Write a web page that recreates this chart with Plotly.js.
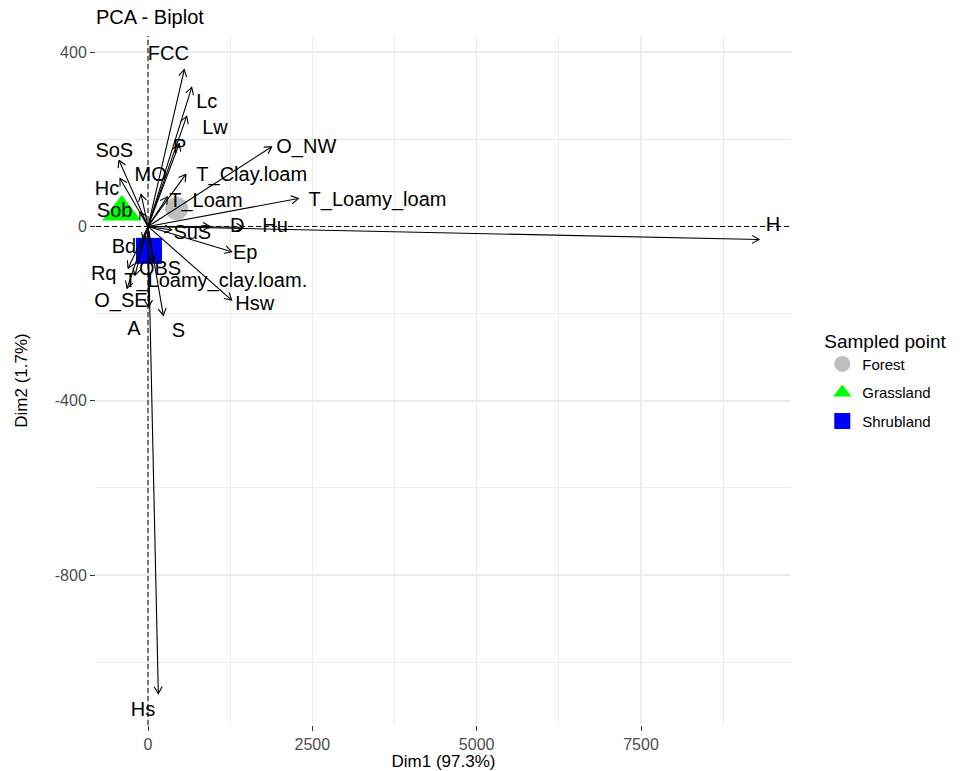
<!DOCTYPE html>
<html>
<head>
<meta charset="utf-8">
<script src="https://cdn.plot.ly/plotly-3.0.1.min.js"></script>
<style>html,body{margin:0;padding:0;background:#fff;}#chart{width:971px;height:771px;}</style>
</head>
<body>
<div id="chart"></div>
<script>
// ---- data ----
const varNames = ['FCC','Lc','Lw','P','O_NW','T_Clay.loam','T_Loam','T_Loamy_loam','MO','SoS','Hc','Sob','D','Hu','H','SuS','Ep','Hsw','Bd','Rq','OBS','T_Loamy_clay.loam.','O_SE','A','S','Hs'];
const varX = [552,665,589,476,1882,578,294,2287,-106,-441,-426,-122,943,1450,9296,360,1273,1273,-76,-304,76,-198,-319,8,233,157];
const varY = [360,319,253,190,183,120,68,64,74,152,110,33,0,-2,-30,-8,-58,-169,-31,-96,-82,-112,-142,-185,-204,-1072];
const labX = [309,893,1019,482,2408,1578,882,3492,41,-513,-624,-507,1359,1932,9509,674,1480,1623,-365,-674,183,1030,-411,-213,461,-76];
const labY = [393,284,223,179,179,116,56,58,116,171,83,34,-1,-1,0,-18,-64,-181,-50,-112,-99,-127,-173,-238,-242,-1112];

const groups = ['Forest','Grassland','Shrubland'];
const groupX = [436,-400,15];
const groupY = [41,33,-56];
const groupColors = ['#BEBEBE','#00FF00','#0000FF'];
const groupSymbols = ['circle','triangle-up','square'];

const xTickVals = [0,2500,5000,7500];
const xTickText = ['0','2500','5000','7500'];
const yTickVals = [-800,-400,0,400];
const yTickText = ['-800','-400','0','400'];

const xRange = [-791, 9782];
const yRange = [-1144, 437];

// ---- layout geometry ----
const W = 971, H = 771;
const margin = {l:96, r:180, t:36, b:46};
const plotW = W - margin.l - margin.r;
const plotH = H - margin.t - margin.b;
const sx = plotW / (xRange[1]-xRange[0]);
const sy = plotH / (yRange[1]-yRange[0]);

// arrows: shafts + open V heads (head computed in screen space)
const ax = [], ay = [];
const headLen = 8, headAng = Math.PI/6;
for (let i=0;i<varNames.length;i++){
  const x = varX[i], y = varY[i];
  ax.push(0, x, null); ay.push(0, y, null);
  const ang = Math.atan2(y*sy, x*sx);
  const a1 = ang + Math.PI + headAng, a2 = ang + Math.PI - headAng;
  ax.push(x + headLen*Math.cos(a1)/sx, x, x + headLen*Math.cos(a2)/sx, null);
  ay.push(y + headLen*Math.sin(a1)/sy, y, y + headLen*Math.sin(a2)/sy, null);
}

const traces = [];
// dashed reference lines through the origin
traces.push({type:'scatter', mode:'lines', x:[0,0], y:yRange, showlegend:false, hoverinfo:'skip',
  line:{color:'#000000', width:1, dash:'5px,3px'}});
traces.push({type:'scatter', mode:'lines', x:xRange, y:[0,0], showlegend:false, hoverinfo:'skip',
  line:{color:'#000000', width:1, dash:'5px,3px'}});

const markerSizes = [23, 34, 26];
for (let g=0; g<groups.length; g++){
  traces.push({
    type:'scatter', mode:'markers', name:groups[g], legendgroup:groups[g],
    x:[groupX[g]], y:[groupY[g]],
    marker:{color:groupColors[g], symbol:groupSymbols[g], size:markerSizes[g], line:{width:0}},
    hoverinfo:'skip'
  });
}
traces.push({
  type:'scatter', mode:'lines', x:ax, y:ay, showlegend:false,
  line:{color:'#000000', width:1.1}, hoverinfo:'skip'
});
traces.push({
  type:'scatter', mode:'text', x:labX, y:labY, text:varNames, showlegend:false,
  textposition:'middle center',
  textfont:{family:'Liberation Sans, Arial, sans-serif', size:20, color:'#000000'},
  hoverinfo:'skip', cliponaxis:false
});

const gridColor = '#EBEBEB';
const layout = {
  width:W, height:H, margin:margin,
  paper_bgcolor:'#ffffff', plot_bgcolor:'#ffffff',
  font:{family:'Liberation Sans, Arial, sans-serif', color:'#000000'},
  title:{text:'PCA - Biplot', x:0, xref:'paper', xanchor:'left', y:1-17/H, yref:'container', yanchor:'middle',
    font:{size:20, color:'#000000'}},
  xaxis:{range:xRange, tickmode:'array', tickvals:xTickVals, ticktext:xTickText, zeroline:false, showline:false,
    showgrid:true, gridcolor:gridColor, gridwidth:1.5,
    minor:{dtick:1250, tick0:0, showgrid:true, gridcolor:gridColor, gridwidth:1},
    ticks:'outside', ticklen:5, tickcolor:'#333333', tickwidth:1,
    tickfont:{size:16, color:'#4D4D4D'},
    title:{text:'Dim1 (97.3%)', font:{size:17, color:'#000000'}, standoff:4}},
  yaxis:{range:yRange, tickmode:'array', tickvals:yTickVals, ticktext:yTickText, zeroline:false, showline:false,
    showgrid:true, gridcolor:gridColor, gridwidth:1.5,
    minor:{dtick:200, tick0:0, showgrid:true, gridcolor:gridColor, gridwidth:1},
    ticks:'outside', ticklen:5, tickcolor:'#333333', tickwidth:1,
    tickfont:{size:16, color:'#4D4D4D'},
    title:{text:'Dim2 (1.7%)', font:{size:17, color:'#000000'}, standoff:22}},
  legend:{x:1.045, xanchor:'left', y:0.5, yanchor:'middle',
    title:{text:'Sampled point', font:{size:19, color:'#000000'}, side:'top'},
    font:{size:15, color:'#000000'}, tracegroupgap:6, itemsizing:'trace', bgcolor:'rgba(0,0,0,0)'},
  showlegend:true
};

Plotly.newPlot('chart', traces, layout, {displayModeBar:false, staticPlot:true});
</script>
</body>
</html>
